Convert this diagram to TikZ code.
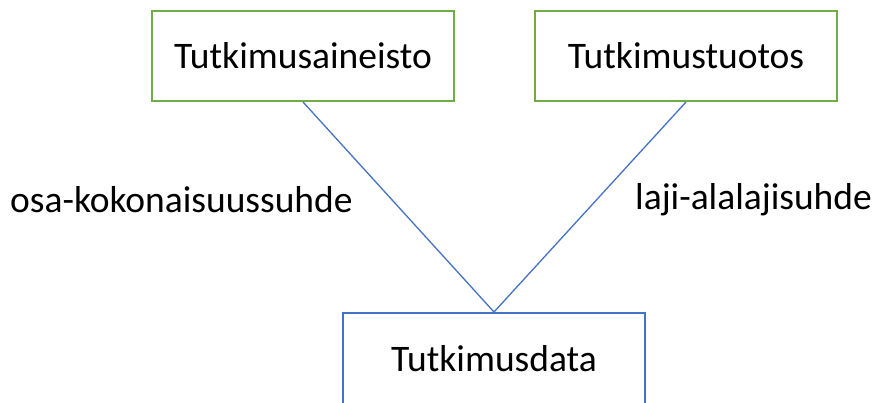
\documentclass[tikz,border=0pt]{standalone}
\usepackage{fontspec}
\setmainfont{Carlito}
\definecolor{boxgreen}{HTML}{70AD47}
\definecolor{boxblue}{HTML}{4472C4}
\begin{document}
\begin{tikzpicture}[x=1pt,y=1pt,
  box/.style={draw, line width=2pt, minimum width=302pt, minimum height=90pt, inner sep=0pt, font=\fontsize{37.5}{42}\selectfont},
  lbl/.style={font=\fontsize{37.5}{42}\selectfont, inner sep=0pt},
  link/.style={draw=boxblue, line width=1.3pt}]
\useasboundingbox (0,0) rectangle (880,403);
\clip (0,0) rectangle (880,403);
\node[box, draw=boxgreen] (ain) at (303,347) {Tutkimusaineisto};
\node[box, draw=boxgreen] (tuo) at (686,347) {Tutkimustuotos};
\node[box, draw=boxblue, minimum height=92pt] (dat) at (494,44) {Tutkimusdata};
\node[lbl, anchor=west] (l1) at (10,203) {osa-kokonaisuussuhde};
\node[lbl, anchor=west] (l2) at (635,203) {laji-alalajisuhde};
\draw[link] (ain.south) -- (dat.north);
\draw[link] (tuo.south) -- (dat.north);
\end{tikzpicture}
\end{document}
